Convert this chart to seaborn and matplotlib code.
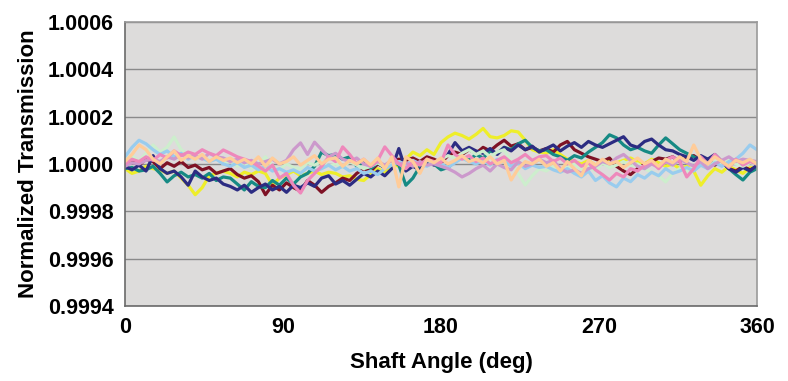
import numpy as np
import pandas as pd
import seaborn as sns
import matplotlib.pyplot as plt

# shaft angle samples (deg), every 4 degrees
angles = list(range(0, 361, 4))

# deviation from 1.0 in ppm
navy = [-10, -25, -5, -30, 35, -20, -40, -30, -55, -90,
        -30, -55, -70, -60, -85, -95, -110, -90, -120, -100,
        -85, -110, -95, -120, -90, -100, -80, -95, -60, -50,
        -85, -70, -90, -65, -40, -55, -30, -50, -20, 65,
        -30, -10, -25, 10, -5, 15, 40, 90, 55, 70,
        55, 45, 65, 40, 70, 55, 80, 60, 75, 50,
        65, 80, 55, 75, 90, 70, 95, 80, 70, 85,
        100, 115, 80, 70, 95, 105, 80, 60, 55, 40,
        30, 15, 35, 20, 40, 10, -20, -35, -15, -30,
        -5]
darkred = [0, 15, -5, 20, 10, -20, 5, -10, 10, -15,
           -5, -25, -15, -40, -30, -20, -45, -60, -50, -75,
           -130, -90, -110, -80, -100, -115, -70, -90, -120, -95,
           -80, -60, -70, -40, -20, -30, 0, -15, 10, 20,
           15, 25, 10, 30, 20, 5, 35, 50, 40, 60,
           45, 70, 55, 80, 100, 75, 85, 60, 70, 55,
           65, 50, 80, 95, 60, 45, 30, 20, 10, 25,
           -10, -30, -45, -20, 0, 10, 25, 20, 30, 10,
           25, 35, 15, 20, -5, 10, -20, -30, -10, -25,
           -10]
teal = [-20, -15, -30, -25, -10, -40, -76, -50, -35, -55,
        -45, -60, -40, -70, -55, -60, -85, -110, -75, -95,
        -100, -70, -90, -60, -85, -55, -40, -10, 50, 35,
        40, 20, 30, -10, 10, -20, 5, -15, 15, -5,
        -90, -60, -10, 10, 0, -25, -15, 10, 30, 15,
        40, 25, 55, 45, 70, 60, 85, 100, 70, 55,
        60, 40, 30, 15, 35, 25, 50, 70, 90, 123,
        110, 80, 60, 70, 55, 45, 80, 110, 85, 60,
        45, 30, 15, 20, 0, 10, -20, -45, -68, -35,
        -20]
yellow = [-20, -40, -30, -10, -20, -25, -40, -30, -60, -90,
          -130, -100, -50, -40, -30, -40, -55, -35, -45, -30,
          -40, -90, -60, -45, -30, -50, -40, -30, -45, -35,
          -40, -55, -50, -65, -70, -45, -20, -35, 0, -10,
          20, 50, 35, 60, 40, 90, 114, 130, 120, 105,
          125, 150, 115, 110, 120, 140, 135, 100, 60, 50,
          45, 60, 40, 20, 10, 0, 15, -5, 10, 20,
          5, 15, 25, 10, 0, 20, 5, -10, 0, -20,
          -10, -30, -90, -50, -20, -35, -10, -25, -40, -15,
          -20]
lightblue = [30, 70, 100, 85, 60, 40, 55, 30, 45, 20,
             35, 25, 10, 20, 0, -10, 5, -15, -5, -25,
             -10, -30, -20, -35, -25, -40, -15, -30, -20, -5,
             -25, -10, -30, -20, -40, -30, -45, -20, -5, 10,
             -5, 15, 0, -10, 10, 0, -15, 5, 25, 10,
             0, 15, -5, 20, 10, -10, 5, -20, -5, -15,
             -10, -25, -35, -20, -40, -55, -30, -70, -50, -80,
             -97, -60, -75, -45, -60, -35, -50, -20, -40, -30,
             -15, -30, -5, -20, 5, -10, 10, 20, 45, 80,
             60]
lightgreen = [20, 35, 10, 45, 80, 50, 70, 114, 60, 40,
              20, 35, 10, 25, 0, 15, -10, 5, -20, 0,
              30, -10, -25, 0, -15, -20, 5, -5, 10, -10,
              0, -15, 10, -5, -20, -10, 5, -15, 0, 10,
              -5, 10, 0, 15, 5, 20, 35, 25, 45, 60,
              40, 55, 30, 50, 60, 10, -40, -89, -50, -20,
              -30, -10, -25, -15, 0, -20, -10, -30, 5, -15,
              -5, 10, -10, 0, -20, -35, -50, -76, -40, -20,
              -30, -10, 0, -15, 10, -5, 15, 0, -10, 5,
              0]
lavender = [-10, 5, 0, 15, 20, 10, 30, 20, 40, 25,
            35, 20, 45, 30, 25, 10, 20, 5, 15, 0,
            10, 20, 0, 15, 60, 89, 40, 92, 60, 30,
            45, 20, 10, 25, 0, -10, 10, -5, 15, 0,
            5, -10, 10, -5, 0, -10, -20, -35, -55, -40,
            -20, -5, -30, 0, -15, -25, 10, -10, 0, 20,
            5, 15, -20, -35, -25, -40, -20, -10, 10, 0,
            25, 40, 15, -10, -20, 0, -15, 10, -5, 20,
            5, -10, 10, -20, 0, 15, 30, 10, 20, 15,
            10]
pink = [0, 20, 10, 30, 15, 40, 25, 55, 35, 50,
        40, 60, 45, 35, 59, 45, 30, 20, 10, -10,
        -30, -5, -60, -40, -90, -123, -70, -40, -10, 30,
        10, 72, 40, 0, 20, -10, 15, 72, 35, 0,
        -20, 10, -5, 20, 10, 5, 80, 40, 20, 35,
        10, 25, 0, 15, 30, 5, 20, 40, 15, 30,
        35, 10, 25, 0, 15, -10, 5, -25, -45, -68,
        -40, -55, -20, -30, -5, 10, -20, 15, 30, 10,
        -55, -20, 30, 0, 40, 10, -15, 20, -5, 10,
        0]
peach = [10, 40, 80, 60, 20, 0, 30, 55, 15, 35,
         20, 40, 10, 30, 15, 25, 5, 20, 0, 30,
         -10, 25, 0, 10, 30, -5, 15, 35, 0, 20,
         25, -10, 15, 0, 20, -5, 25, -20, 30, -97,
         30, 10, -40, 20, 5, 25, 0, 15, 35, 10,
         20, 5, 30, 0, 15, -68, -20, 10, 0, 20,
         -10, 5, -30, 10, -20, -50, 15, -5, 20, 0,
         10, -15, 5, 25, 0, 15, -10, 20, 5, 30,
         10, 80, 20, 0, 30, 10, -10, 15, 5, 20,
         0]

series = {
    "yellow": yellow, "darkred": darkred, "teal": teal, "navy": navy,
    "lightgreen": lightgreen, "lightblue": lightblue, "lavender": lavender,
    "pink": pink, "peach": peach,
}
colors = {
    "yellow": "#EEEE2A", "darkred": "#7E1225", "teal": "#168A84",
    "navy": "#2C2C82", "lightgreen": "#CDEECD", "lightblue": "#99CCEE",
    "lavender": "#CC99CC", "pink": "#EE88BB", "peach": "#FFCC99",
}

rows = []
for name, vals in series.items():
    for a, v in zip(angles, vals):
        rows.append({"angle": a, "trans": 1.0 + v * 1e-6, "run": name})
df = pd.DataFrame(rows)

sns.set_style("white")
plt.rcParams["font.family"] = ["Liberation Sans", "DejaVu Sans"]
plt.rcParams["font.weight"] = "bold"
plt.rcParams["text.color"] = "black"
plt.rcParams["axes.labelcolor"] = "black"
plt.rcParams["xtick.labelcolor"] = "black"
plt.rcParams["ytick.labelcolor"] = "black"

fig = plt.figure(figsize=(7.88, 3.81), dpi=100)
ax = fig.add_axes([0.1586, 0.197, 0.802, 0.7455])
ax.set_facecolor("#DDDCDB")

sns.lineplot(data=df, x="angle", y="trans", hue="run", palette=colors,
             hue_order=list(series.keys()), linewidth=2.3, legend=False,
             sort=False, estimator=None, ax=ax)

ax.set_xlim(0, 360)
ax.set_ylim(0.9994, 1.0006)
ax.set_xticks([0, 90, 180, 270, 360])
yt = [0.9994, 0.9996, 0.9998, 1.0, 1.0002, 1.0004, 1.0006]
ax.set_yticks(yt)
ax.set_yticklabels([f"{v:.4f}" for v in yt])
ax.yaxis.grid(True, color="#8A8A8A", linewidth=1.0)
ax.set_axisbelow(True)
for s in ["top", "right"]:
    ax.spines[s].set_color("#9A9A9A")
for s in ["left", "bottom"]:
    ax.spines[s].set_color("#6A6A6A")
for s in ax.spines.values():
    s.set_linewidth(1.2)
ax.tick_params(axis="both", direction="out", length=5, width=1,
               color="#6A6A6A", labelcolor="black", labelsize=15.5, pad=3)
for lbl in ax.get_xticklabels() + ax.get_yticklabels():
    lbl.set_fontweight("bold")

ax.set_xlabel("Shaft Angle (deg)", fontsize=16, fontweight="bold",
              labelpad=10, color="black")
ax.set_ylabel("Normalized Transmission", fontsize=16, fontweight="bold",
              labelpad=6, color="black")

fig.savefig("out.png", dpi=100, facecolor="white")
